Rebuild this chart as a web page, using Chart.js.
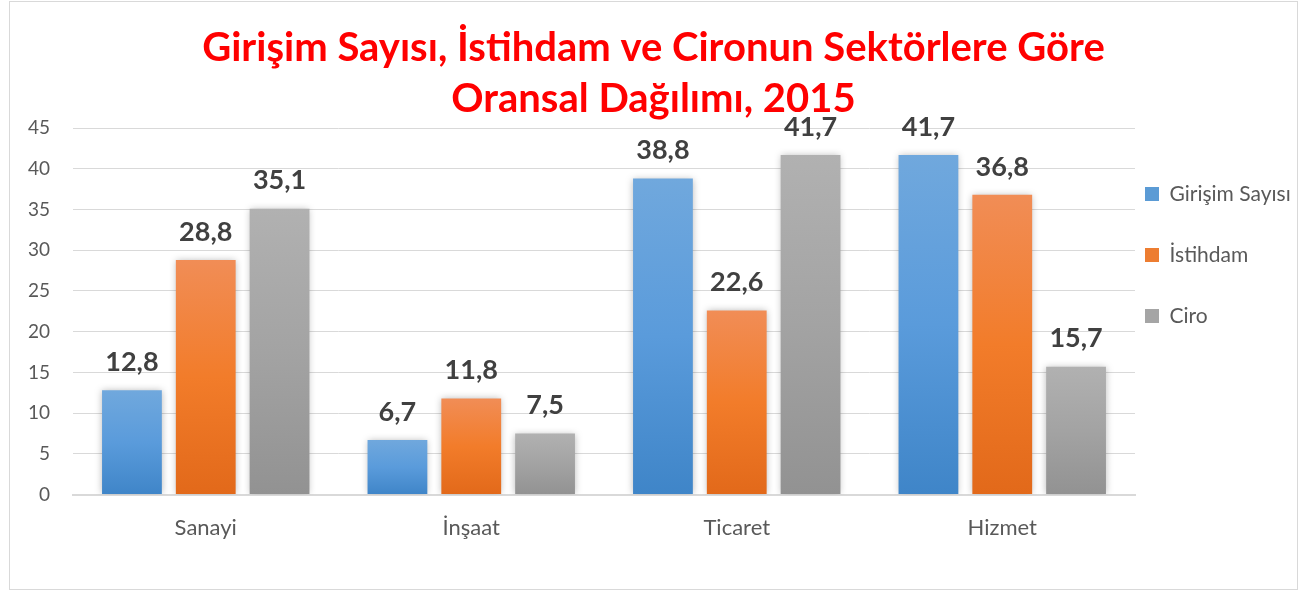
<!DOCTYPE html>
<html>
<head>
<meta charset="utf-8">
<script src="https://cdn.jsdelivr.net/npm/chart.js@4.4.1/dist/chart.umd.min.js"></script>
<style>
  html, body { margin: 0; padding: 0; background: #ffffff; }
  #wrap { width: 1311px; height: 592px; position: relative; }
</style>
</head>
<body>
<div id="wrap"><canvas id="c" width="1311" height="592"></canvas></div>
<script>
const titleLines = ['Girişim Sayısı, İstihdam ve Cironun Sektörlere Göre', 'Oransal Dağılımı, 2015'];
const categories = ['Sanayi', 'İnşaat', 'Ticaret', 'Hizmet'];
const seriesNames = ['Girişim Sayısı', 'İstihdam', 'Ciro'];
const girisimSayisi = [12.8, 6.7, 38.8, 41.7];
const istihdam = [28.8, 11.8, 22.6, 36.8];
const ciro = [35.1, 7.5, 41.7, 15.7];
const yMin = 0, yMax = 45, yStep = 5;

const FONT = 'Lato, "Open Sans", sans-serif';
const palettes = [
  { top: '#70A8DD', mid: '#5A9BDB', bottom: '#3F85C8', solid: '#5B9BD5' },
  { top: '#F18D56', mid: '#F27C2A', bottom: '#E2691A', solid: '#ED7D31' },
  { top: '#B1B1B1', mid: '#A3A3A3', bottom: '#929292', solid: '#A5A5A5' }
];

function gradientFill(idx) {
  return function (ctx) {
    const p = palettes[idx];
    const chart = ctx.chart;
    if (ctx.type !== 'data' || !chart.chartArea || !chart.scales.y) return p.solid;
    const y = chart.scales.y;
    const t = y.getPixelForValue(ctx.raw);
    const b = y.getPixelForValue(0);
    if (!isFinite(t) || !isFinite(b) || Math.abs(b - t) < 1) return p.solid;
    const g = chart.ctx.createLinearGradient(0, t, 0, b);
    g.addColorStop(0, p.top);
    g.addColorStop(0.5, p.mid);
    g.addColorStop(1, p.bottom);
    return g;
  };
}

const frameAndLabels = {
  id: 'frameAndLabels',
  beforeDraw(chart) {
    const c = chart.ctx;
    c.save();
    c.fillStyle = '#ffffff';
    c.fillRect(0, 0, chart.width, chart.height);
    c.strokeStyle = '#D9D9D9';
    c.lineWidth = 1;
    c.strokeRect(9.5, 1.5, 1288, 588);
    c.restore();
  },
  afterLayout(chart) {
    const lg = chart.legend;
    if (!lg) return;
    const pad = lg.options.labels.padding;
    const shiftX = 1145 - (lg.left + pad);
    lg.left += shiftX;
    lg.right = chart.width;
    lg.width = lg.right - lg.left;
    const fs = lg.options.labels.font.size;
    lg.top = 194 - pad - fs / 2;
  },
  beforeDatasetsDraw(chart) {
    const c = chart.ctx;
    c.save();
    c.shadowColor = 'rgba(0,0,0,0.28)';
    c.shadowBlur = 7;
    c.shadowOffsetX = 0;
    c.shadowOffsetY = 0;
  },
  afterDatasetsDraw(chart) {
    const c = chart.ctx;
    c.restore();
    c.save();
    c.font = 'bold 27px ' + FONT;
    c.fillStyle = '#404040';
    c.textAlign = 'center';
    c.textBaseline = 'middle';
    chart.data.datasets.forEach((ds, di) => {
      const meta = chart.getDatasetMeta(di);
      meta.data.forEach((bar, i) => {
        const v = ds.data[i];
        c.fillText(v.toFixed(1).replace('.', ','), bar.x, bar.y - 28);
      });
    });
    c.restore();
  }
};

new Chart(document.getElementById('c'), {
  type: 'bar',
  data: {
    labels: categories,
    datasets: [
      { label: seriesNames[0], data: girisimSayisi, backgroundColor: gradientFill(0), borderWidth: 0 },
      { label: seriesNames[1], data: istihdam, backgroundColor: gradientFill(1), borderWidth: 0 },
      { label: seriesNames[2], data: ciro, backgroundColor: gradientFill(2), borderWidth: 0 }
    ]
  },
  options: {
    responsive: false,
    animation: false,
    devicePixelRatio: 1,
    layout: { padding: { left: 9, right: 13, top: 1, bottom: 31 } },
    datasets: { bar: { categoryPercentage: 0.834, barPercentage: 0.81 } },
    plugins: {
      title: {
        display: true,
        text: titleLines,
        color: '#FF0000',
        font: { family: FONT, size: 40, weight: 'bold', lineHeight: 51 / 40 },
        padding: { top: 22, bottom: 3 }
      },
      legend: {
        display: true,
        position: 'right',
        align: 'start',
        maxWidth: 163,
        labels: {
          boxWidth: 14,
          boxHeight: 14,
          padding: 40,
          color: '#595959',
          font: { family: FONT, size: 21 },
          generateLabels(chart) {
            return chart.data.datasets.map((ds, i) => ({
              text: ds.label,
              fillStyle: palettes[i].solid,
              strokeStyle: palettes[i].solid,
              lineWidth: 0,
              hidden: false,
              datasetIndex: i,
              fontColor: '#595959'
            }));
          }
        }
      },
      tooltip: { enabled: false }
    },
    scales: {
      x: {
        grid: { display: false, drawTicks: false },
        border: { display: true, color: '#D9D9D9', width: 2 },
        ticks: { color: '#595959', font: { family: FONT, size: 22 }, padding: 20 }
      },
      y: {
        min: yMin,
        max: yMax,
        afterFit(scale) { scale.width = 64; },
        grid: { color: '#D9D9D9', lineWidth: 1, drawTicks: false },
        border: { display: false },
        ticks: { stepSize: yStep, color: '#595959', font: { family: FONT, size: 19 }, padding: 23 }
      }
    }
  },
  plugins: [frameAndLabels]
});
</script>
</body>
</html>
